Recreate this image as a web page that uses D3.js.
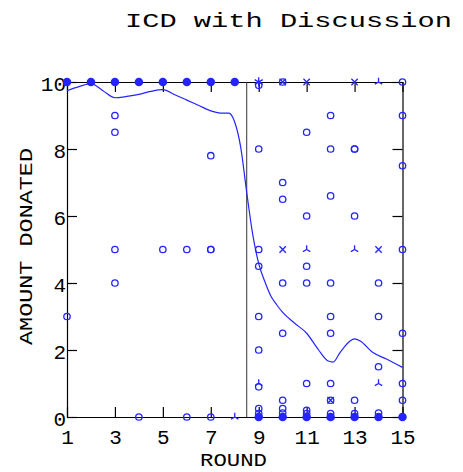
<!DOCTYPE html>
<html>
<head>
<meta charset="utf-8">
<script src="https://cdn.jsdelivr.net/npm/d3@7"></script>
<style>
body { margin: 0; background: #fff; }
svg text { font-family: "Liberation Mono", "DejaVu Sans Mono", monospace; fill: #000; }
</style>
</head>
<body>
<svg id="chart" width="463" height="472"></svg>
<script>
var xTicks = [1, 3, 5, 7, 9, 11, 13, 15];
var yTicks = [0, 2, 4, 6, 8, 10];
var splitRound = 8.5;

// smoothed mean donation
var lineRound = [1, 1.5, 2, 2.5, 3, 3.5, 4, 4.5, 5, 5.5, 6, 6.5, 7, 7.5, 7.75, 8, 8.25, 8.5, 8.75, 9, 9.25, 9.5, 9.75, 10, 10.5, 11, 11.5, 11.9, 12.1, 12.4, 12.8, 13, 13.25, 13.75, 14.33, 15];
var lineMean = [9.74, 9.86, 9.95, 9.74, 9.53, 9.57, 9.63, 9.72, 9.77, 9.62, 9.46, 9.3, 9.14, 9.07, 9.07, 8.8, 8.05, 6.7, 5.45, 4.58, 4.05, 3.62, 3.35, 3.12, 2.8, 2.5, 2.0, 1.67, 1.64, 1.93, 2.26, 2.33, 2.26, 1.93, 1.73, 1.48];

var filledRound = [1, 2, 3, 4, 5, 6, 7, 8, 9, 10, 11, 12, 13, 14, 15];
var filledValue = [10, 10, 10, 10, 10, 10, 10, 10, 0, 0, 0, 0, 0, 0, 0];

var circleRound = [1, 3, 3, 3, 3, 4, 5, 6, 6, 7, 7, 7, 7,
  9, 9, 9, 9, 9, 9, 9, 9, 9,
  10, 10, 10, 10, 10, 10, 10, 10,
  11, 11, 11, 11, 11, 11, 11,
  12, 12, 12, 12, 12, 12, 12, 12, 12,
  13, 13, 13, 13, 13,
  14, 14, 14, 14,
  15, 15, 15, 15, 15, 15, 15];
var circleValue = [3, 9, 8.5, 5, 4, 0, 5, 5, 0, 7.8, 5, 5, 0,
  9.9, 8, 5, 4.5, 3, 2, 0.9, 0.25, 0.1,
  10, 7, 6.5, 4, 2.5, 0.5, 0.25, 0.12,
  8.5, 6, 4.5, 4, 1, 0.2, 0.1,
  9, 8, 6.6, 4, 3, 2.5, 1, 0.5, 0.1,
  8, 8, 6, 0.5, 0.1,
  4, 3, 1.5, 0.12,
  10, 9, 7.5, 5, 2.5, 1, 0.5];

var crossRound = [10, 11, 13, 10, 14, 12];
var crossValue = [10, 10, 10, 5, 5, 0.5];

var triRound = [14, 11, 13, 8, 9, 14, 12];
var triValue = [10, 5, 5, 0, 1, 1, 0];

var starRound = [9];
var starValue = [10];

var blue = "#2424ff";
var svg = d3.select("#chart");

var x = d3.scaleLinear().domain([1, 15]).range([67, 402.5]);
var y = d3.scaleLinear().domain([0, 10]).range([417, 82]);

// axes with inward ticks on all four sides
var gx = svg.append("g").attr("transform", "translate(0," + y(0) + ")")
  .call(d3.axisBottom(x).tickValues(xTicks).tickSizeInner(-10).tickSizeOuter(0).tickPadding(12).tickFormat(d3.format("d")));
var gxt = svg.append("g").attr("transform", "translate(0," + y(10) + ")")
  .call(d3.axisTop(x).tickValues(xTicks).tickSizeInner(-10).tickSizeOuter(0).tickFormat(""));
var gy = svg.append("g").attr("transform", "translate(" + x(1) + ",0)")
  .call(d3.axisLeft(y).tickValues(yTicks).tickSizeInner(-10).tickSizeOuter(0).tickPadding(1).tickFormat(d3.format("d")));
var gyr = svg.append("g").attr("transform", "translate(" + x(15) + ",0)")
  .call(d3.axisRight(y).tickValues(yTicks).tickSizeInner(-10).tickSizeOuter(0).tickFormat(""));

svg.selectAll(".domain").attr("stroke", "#000").attr("stroke-width", 1.2);
svg.selectAll(".tick line").attr("stroke", "#000").attr("stroke-width", 1.2);
svg.selectAll(".tick text").attr("font-size", 21).attr("font-family", null);
gy.selectAll(".tick text").attr("dy", "0.42em");

svg.append("line")
  .attr("x1", x(splitRound)).attr("x2", x(splitRound))
  .attr("y1", y(10)).attr("y2", y(0))
  .attr("stroke", "#333").attr("stroke-width", 1);

var line = d3.line()
  .x(function (d, i) { return x(lineRound[i]); })
  .y(function (d) { return y(d); })
  .curve(d3.curveMonotoneX);

svg.append("path")
  .attr("d", line(lineMean))
  .attr("fill", "none")
  .attr("stroke", blue)
  .attr("stroke-width", 1.2);

var tri = {
  draw: function (ctx, size) {
    var r = Math.sqrt(size);
    ctx.moveTo(0, 0); ctx.lineTo(0, -r);
    ctx.moveTo(0, 0); ctx.lineTo(-r * 0.87, r * 0.5);
    ctx.moveTo(0, 0); ctx.lineTo(r * 0.87, r * 0.5);
  }
};

function drawMarks(rs, vs, type, size, filled) {
  svg.append("g").selectAll("path")
    .data(vs)
    .enter().append("path")
    .attr("transform", function (d, i) { return "translate(" + x(rs[i]) + "," + y(d) + ")"; })
    .attr("d", d3.symbol().type(type).size(size))
    .attr("fill", filled ? blue : "none")
    .attr("stroke", blue)
    .attr("stroke-width", 1.3);
}

drawMarks(circleRound, circleValue, d3.symbolCircle, Math.PI * 3.2 * 3.2, false);
drawMarks(crossRound, crossValue, d3.symbolTimes, 28, false);
drawMarks(triRound, triValue, tri, 18, false);
drawMarks(starRound, starValue, d3.symbolAsterisk, 60, false);
drawMarks(filledRound, filledValue, d3.symbolCircle, Math.PI * 3.6 * 3.6, true);

svg.append("text")
  .attr("x", 125).attr("y", 27)
  .attr("font-size", 20)
  .attr("textLength", 327).attr("lengthAdjust", "spacingAndGlyphs")
  .text("ICD with Discussion");

svg.append("text")
  .attr("x", 200).attr("y", 466)
  .attr("font-size", 18)
  .attr("textLength", 67).attr("lengthAdjust", "spacingAndGlyphs")
  .text("ROUND");

svg.append("text")
  .attr("transform", "translate(32,345) rotate(-90)")
  .attr("font-size", 19)
  .attr("textLength", 197).attr("lengthAdjust", "spacingAndGlyphs")
  .text("AMOUNT DONATED");
</script>
</body>
</html>
